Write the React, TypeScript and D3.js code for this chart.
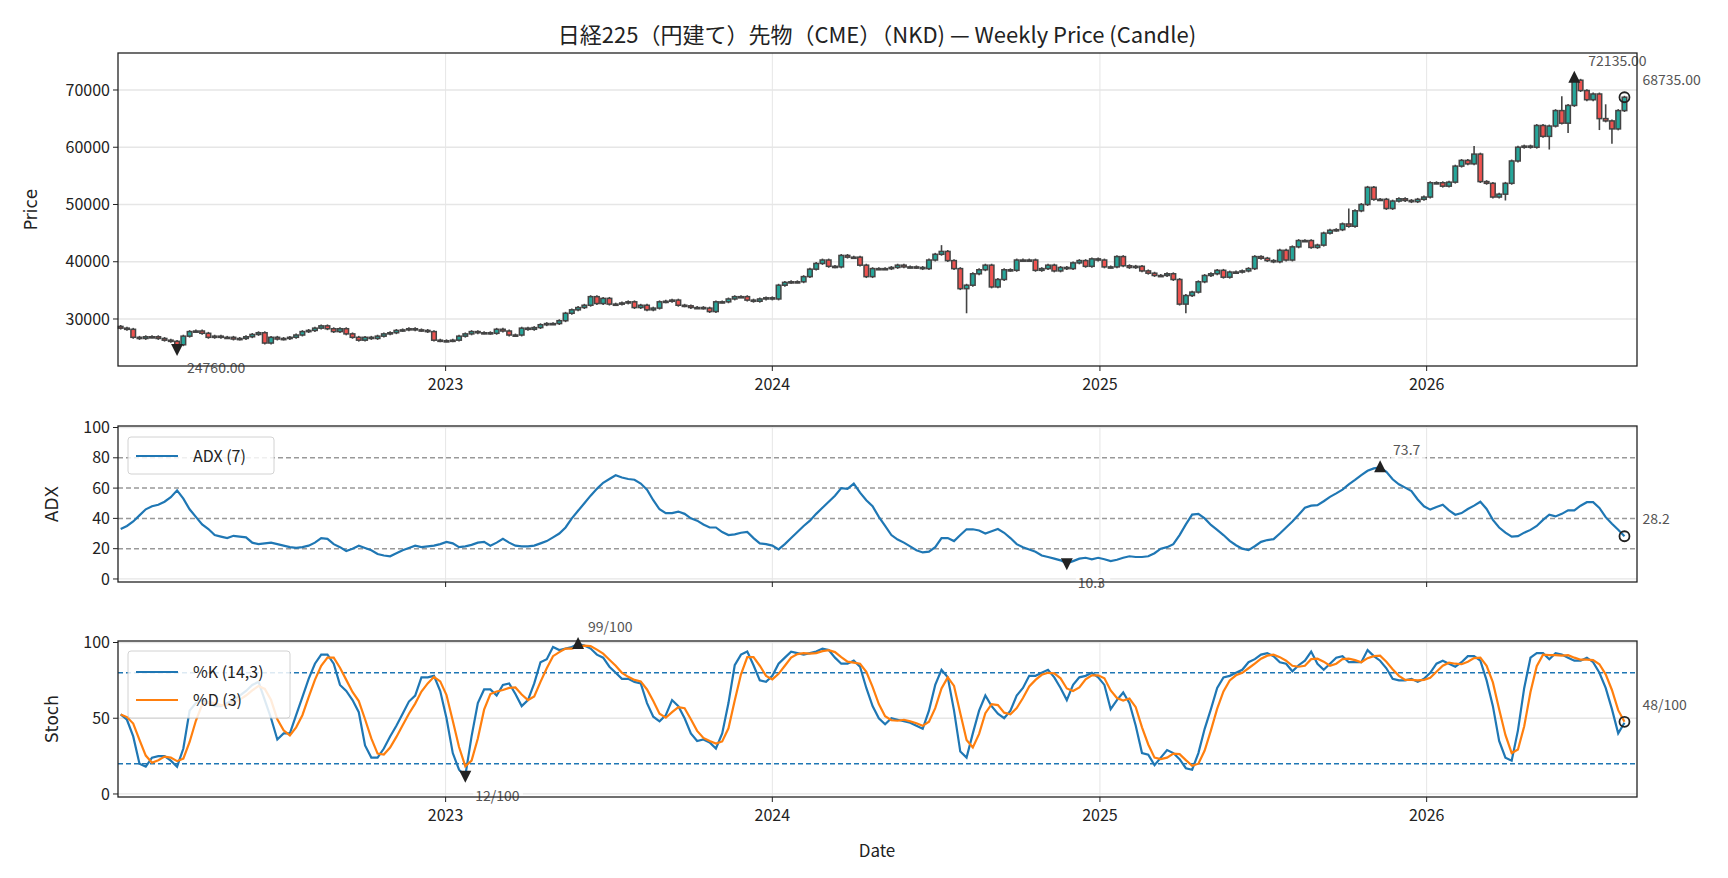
import React from "react";
import * as d3 from "d3";

const closes = [
28400,28200,26800,26600,26900,26900,26600,26300,26100,25500,27000,27800,27900,27500,26800,27000,26800,26800,26500,26600,
26900,27300,27600,25800,26800,26500,26600,26800,27200,27800,28000,28400,28800,28300,27800,28300,27400,26800,26300,26800,
26600,27000,27400,27600,28000,28100,28300,28100,28000,27800,26300,26200,26200,26300,27000,27400,27800,27600,27600,27500,
28200,27900,
27200,27200,28400,28200,28500,29000,29200,29200,29700,31000,31600,32000,32400,33900,32700,33600,32600,32600,32800,33000,
32000,32400,31600,31900,33000,33100,33300,32400,32300,32000,32000,31900,31300,33000,33000,33500,33900,33900,33300,33100,
33500,33700,33500,35900,36400,36500,36500,37400,38700,39700,40300,39200,39100,41100,40800,40800,39400,37400,38800,38800,
38800,39000,39400,
39100,39100,39000,38800,40300,41300,41800,40200,38800,35300,35900,37900,38600,39400,35600,36900,38600,38500,40300,40300,
40300,38500,38800,39400,38400,39000,38800,39800,40200,39200,40500,40300,39100,39100,40900,39300,39000,39200,38400,38000,
37600,37600,37900,36900,32600,34100,34700,36500,37600,37900,38500,37300,38200,38200,38400,38800,40900,40600,40200,40000,
42000,40300,42600,43700,43700,42500,42900,45000,45500,45600,46600,46200,48900,50000,53000,50900,50900,49300,50600,51000,
50700,50500,50900,51300,53800,53800,53200,53900,56700,57700,57100,58800,54000,53700,51300,51800,53700,57600,60000,60200,
60000,63800,61900,63700,66400,64200,67300,71700,69900,68300,69300,65000,64600,63200,66400,68735];
const firstOpen = 28700;
const lowOverrides: Record<number, number> = { 9: 24760, 135: 31000, 170: 31000, 221: 50700, 228: 59600, 231: 62500, 236: 63000, 238: 60600 };
const highOverrides: Record<number, number> = { 232: 72135, 131: 42900, 196: 49300, 216: 60200, 230: 68900, 237: 67500 };

const adx = [
33,35,38,42,46,48,49,51,54,58.5,53,46,41,36,33,29,28,27,28.5,28,
27.5,24,23,23.5,24,23,22,21,20.5,21,22,24,27,26.5,23,21,18.5,20,22,20.5,
19,16.5,15.5,15,17,19,20.5,22,21,21.5,22,23,24.5,23.5,21,21.5,22.5,24,24.5,22,
24,26.5,24,22,21.5,21.5,22,23.5,25,27.5,30,34,40,45,50,55,59.5,63.5,66,68.5,
67,66,65.5,63,59,52,46,43.5,43.5,44.5,43,40,38.5,36,34,34,31,29,29.5,30.5,
31,27,23.5,23,22,19.5,23,27,31,35,38.5,43,47,51,55,60,59.5,63,57,52,
48,41,35,29,26,24,21.5,19,17.5,18,21,27,27,25,29,32.8,32.8,32,30,31.5,
33,30.5,27,23,21,19.5,18,15.5,14.5,13.4,12.3,10.3,11.8,13.4,14,13,14,13,11.8,12.7,
14,15,14.5,14.5,15,17,20,21,23,29,36,42.5,43,40,35.7,32.4,29,25.2,22.3,20,
19,21.6,24.5,25.7,26.3,30,34,38,42.4,47,48.4,48.7,51.3,54.2,56.5,59,62.5,65.4,68.5,71.4,
73,73.7,70.8,65.8,62.5,60.3,58,52.5,48,45.8,47.5,49,45.3,42.4,43.5,46.2,48.4,51,46.2,39,
34,30.6,27.9,28.3,30.6,32.4,35,39,42.4,41.3,43,45.3,45.3,48.4,50.7,50.7,46.9,40.8,36.4,32.5,
28.2];

const stochK = [
52.5,49,38,20,18,24,25,25,22,18,30,55,60,62,60,58,58,60,62,65,
68,72,74,62,50,36,40,40,52,64,76,86,92,92,86,72,68,62,54,32,
24,24,30,38,45,53,61,65,77,77,78,68,50,27,16,12,38,60,69,69,
65,72,73,66,58,62,73,87,89,97,95,96,97,99,98,96,92,90,84,80,
76,76,74,73,60,51,48,52,62,58,50,40,35,36,34,30,40,60,85,92,
94,85,75,74,78,86,90,94,93,92,93,94,96,95,90,86,86,88,84,70,
58,50,46,50,49,48,47,45,43,55,72,82,77,55,28,24,40,55,65,58,
53,50,55,65,70,78,78,80,82,77,70,62,72,77,78,80,77,72,56,62,
67,60,45,27,26,19,24,29,27,23,17,16,27,43,56,70,77,78,80,82,
87,89,92,93,91,87,86,81,85,88,94,86,82,86,90,91,87,87,87,95,
91,88,83,76,75,75,76,74,76,80,86,88,86,84,87,91,91,88,75,58,
35,24,22,42,70,90,93,93,89,93,92,90,88,88,90,87,80,70,56,40,
47];

const yearTicks = [2023, 2024, 2025, 2026];
const priceTicks = [30000, 40000, 50000, 60000, 70000];
const adxTicks = [0, 20, 40, 60, 80, 100];
const adxRefs = [20, 40, 60, 80];
const stochTicks = [0, 50, 100];
const stochRefs = [20, 80];

const FONT = "'Noto Sans CJK JP', 'Noto Sans', sans-serif";
const L = 118, R = 1637;
const UP = "#26a69a", DOWN = "#ef5350", EDGE = "#444", GRID = "#e6e6e6", AX = "#222";
const BLUE = "#1f77b4", ORANGE = "#ff7f0e";

export default function App() {
  const start = new Date(2022, 0, 3);
  const dates = closes.map((_, i) => d3.timeDay.offset(start, i * 7));
  const x = d3.scaleTime().domain([new Date(2021, 11, 31), new Date(2026, 7, 24)]).range([L, R]);
  const bw = 4.6;

  const opens = closes.map((c, i) => (i === 0 ? firstOpen : closes[i - 1]));
  const highs = closes.map((c, i) => highOverrides[i] ?? Math.max(c, opens[i]) + 250);
  const lows = closes.map((c, i) => lowOverrides[i] ?? Math.min(c, opens[i]) - 250);

  const pTop = 53, pBot = 366;
  const yP = d3.scaleLinear().domain([21790, 76460]).range([pBot, pTop]);
  const aTop = 426, aBot = 582;
  const yA = d3.scaleLinear().domain([-2, 101]).range([aBot, aTop]);
  const sTop = 641, sBot = 797;
  const yS = d3.scaleLinear().domain([-2, 101]).range([sBot, sTop]);

  const stochD = stochK.map((_, i) => d3.mean(stochK.slice(Math.max(0, i - 2), i + 1)) as number);

  const line = (vals: number[], y: d3.ScaleLinear<number, number>) =>
    d3.line<number>().x((_, i) => x(dates[i])).y((v) => y(v))(vals) as string;

  const yearDates = yearTicks.map((yr) => new Date(yr, 0, 1));

  const frame = (top: number, bot: number) => (
    <rect x={L} y={top} width={R - L} height={bot - top} fill="none" stroke={AX} strokeWidth={1.3} />
  );
  const vgrid = (top: number, bot: number) =>
    yearDates.map((d, i) => <line key={"vg" + i} x1={x(d)} x2={x(d)} y1={top} y2={bot} stroke={GRID} strokeWidth={1} />);
  const xticks = (bot: number, labels: boolean) =>
    yearDates.map((d, i) => (
      <g key={"xt" + i}>
        <line x1={x(d)} x2={x(d)} y1={bot} y2={bot + 5} stroke={AX} />
        {labels && (
          <text x={x(d)} y={bot + 24} textAnchor="middle" fontSize={16} fill="#222">{yearTicks[i]}</text>
        )}
      </g>
    ));
  const yticks = (ticks: number[], y: d3.ScaleLinear<number, number>, grid = true) =>
    ticks.map((t) => (
      <g key={"yt" + t}>
        {grid && <line x1={L} x2={R} y1={y(t)} y2={y(t)} stroke={GRID} strokeWidth={1.3} />}
        <line x1={L - 5} x2={L} y1={y(t)} y2={y(t)} stroke={AX} />
        <text x={L - 8} y={y(t)} dy="0.35em" textAnchor="end" fontSize={16} fill="#222">{t}</text>
      </g>
    ));
  const label = (tx: number, ty: number, s: string) => {
    const w = s.length * 7.6 + 4;
    return (
      <g>
        <rect x={tx - 2} y={ty - 9} width={w} height={18} fill="white" opacity={0.75} />
        <text x={tx} y={ty} dy="0.35em" fontSize={14} fill="#555">{s}</text>
      </g>
    );
  };
  const triUp = (cx: number, cy: number) => <path d={`M${cx},${cy - 7}L${cx + 6},${cy + 5}L${cx - 6},${cy + 5}Z`} fill="#222" />;
  const triDown = (cx: number, cy: number) => <path d={`M${cx},${cy + 7}L${cx + 6},${cy - 5}L${cx - 6},${cy - 5}Z`} fill="#222" />;
  const ring = (cx: number, cy: number) => <circle cx={cx} cy={cy} r={5} fill="none" stroke="#222" strokeWidth={1.8} />;

  const n = closes.length;
  const minI = d3.minIndex(lows), maxI = d3.maxIndex(highs);
  const aMin = d3.minIndex(adx), aMax = d3.maxIndex(adx);
  const kMin = d3.minIndex(stochK), kMax = d3.maxIndex(stochK);
  const last = n - 1;

  return (
    <svg width={1728} height={878} style={{ display: "block", position: "absolute", left: 0, top: 0 }} fontFamily={FONT}>
      <rect width={1728} height={878} fill="white" />
      <text x={877} y={35} dy="0.35em" textAnchor="middle" fontSize={22} fill="#222">
        日経225（円建て）先物（CME）（NKD) — Weekly Price (Candle)
      </text>

      {/* Price panel */}
      {vgrid(pTop, pBot)}
      {yticks(priceTicks, yP)}
      {closes.map((c, i) => {
        const o = opens[i];
        const cx = x(dates[i]);
        const up = c >= o;
        const yt = yP(Math.max(o, c)), yb = yP(Math.min(o, c));
        return (
          <g key={"c" + i}>
            <line x1={cx} x2={cx} y1={yP(highs[i])} y2={yP(lows[i])} stroke={EDGE} strokeWidth={1.6} />
            <rect x={cx - bw / 2} y={yt} width={bw} height={Math.max(1.2, yb - yt)} fill={up ? UP : DOWN} stroke={EDGE} strokeWidth={1.5} />
          </g>
        );
      })}
      {triDown(x(dates[minI]), yP(lows[minI]))}
      {label(x(dates[minI]) + 10, yP(lows[minI]) + 19, lows[minI].toFixed(2))}
      {triUp(x(dates[maxI]), yP(highs[maxI]))}
      {label(x(dates[maxI]) + 14, yP(highs[maxI]) - 17, highs[maxI].toFixed(2))}
      {ring(x(dates[last]), yP(closes[last]))}
      {label(x(dates[last]) + 18, yP(closes[last]) - 17, closes[last].toFixed(2))}
      {frame(pTop, pBot)}
      {xticks(pBot, true)}
      <text transform={`translate(37,${(pTop + pBot) / 2}) rotate(-90)`} textAnchor="middle" fontSize={17} fontFamily="'DejaVu Sans', sans-serif" fill="#222">Price</text>

      {/* ADX panel */}
      {vgrid(aTop, aBot)}
      {yticks(adxTicks, yA, false)}
      {[0, 100].map((t) => <line key={"ag" + t} x1={L} x2={R} y1={yA(t)} y2={yA(t)} stroke={GRID} strokeWidth={1.3} />)}
      {adxRefs.map((t) => <line key={"ar" + t} x1={L} x2={R} y1={yA(t)} y2={yA(t)} stroke="#999" strokeWidth={1.5} strokeDasharray="5,3" />)}
      <path d={line(adx, yA)} fill="none" stroke={BLUE} strokeWidth={2.2} />
      {triUp(x(dates[aMax]), yA(adx[aMax]))}
      {label(x(dates[aMax]) + 13, yA(adx[aMax]) - 17, adx[aMax].toFixed(1))}
      {triDown(x(dates[aMin]), yA(adx[aMin]))}
      {label(x(dates[aMin]) + 11, yA(adx[aMin]) + 20, adx[aMin].toFixed(1))}
      {ring(x(dates[last]), yA(adx[last]))}
      {label(x(dates[last]) + 18, yA(adx[last]) - 17, adx[last].toFixed(1))}
      {frame(aTop, aBot)}
      {xticks(aBot, false)}
      <g>
        <rect x={128} y={437} width={146} height={37} rx={3} fill="white" opacity={0.85} stroke="#ccc" />
        <line x1={136} x2={178} y1={456} y2={456} stroke={BLUE} strokeWidth={2.2} />
        <text x={193} y={456} dy="0.35em" fontSize={16} fill="#222">ADX (7)</text>
      </g>
      <text transform={`translate(58,${(aTop + aBot) / 2}) rotate(-90)`} textAnchor="middle" fontSize={17} fontFamily="'DejaVu Sans', sans-serif" fill="#222">ADX</text>

      {/* Stoch panel */}
      {vgrid(sTop, sBot)}
      {yticks(stochTicks, yS)}
      {stochRefs.map((t) => <line key={"sr" + t} x1={L} x2={R} y1={yS(t)} y2={yS(t)} stroke={BLUE} strokeWidth={1.5} strokeDasharray="5,3" />)}
      <path d={line(stochK, yS)} fill="none" stroke={BLUE} strokeWidth={2.2} />
      <path d={line(stochD, yS)} fill="none" stroke={ORANGE} strokeWidth={2.2} />
      {triUp(x(dates[kMax]), yS(stochK[kMax]))}
      {label(x(dates[kMax]) + 10, yS(stochK[kMax]) - 17, `${Math.round(stochK[kMax])}/100`)}
      {triDown(x(dates[kMin]), yS(stochK[kMin]))}
      {label(x(dates[kMin]) + 10, yS(stochK[kMin]) + 20, `${Math.round(stochK[kMin])}/100`)}
      {ring(x(dates[last]), yS(stochD[last]))}
      {label(x(dates[last]) + 18, yS(stochD[last]) - 17, `${Math.round(stochD[last])}/100`)}
      {frame(sTop, sBot)}
      {xticks(sBot, true)}
      <g>
        <rect x={128} y={651} width={162} height={67} rx={3} fill="white" opacity={0.85} stroke="#ccc" />
        <line x1={136} x2={178} y1={672} y2={672} stroke={BLUE} strokeWidth={2.2} />
        <text x={193} y={672} dy="0.35em" fontSize={16} fill="#222">%K (14,3)</text>
        <line x1={136} x2={178} y1={700} y2={700} stroke={ORANGE} strokeWidth={2.2} />
        <text x={193} y={700} dy="0.35em" fontSize={16} fill="#222">%D (3)</text>
      </g>
      <text transform={`translate(58,${(sTop + sBot) / 2}) rotate(-90)`} textAnchor="middle" fontSize={17} fontFamily="'DejaVu Sans', sans-serif" fill="#222">Stoch</text>
      <text x={877} y={851} dy="0.35em" textAnchor="middle" fontSize={17} fill="#222">Date</text>
    </svg>
  );
}
